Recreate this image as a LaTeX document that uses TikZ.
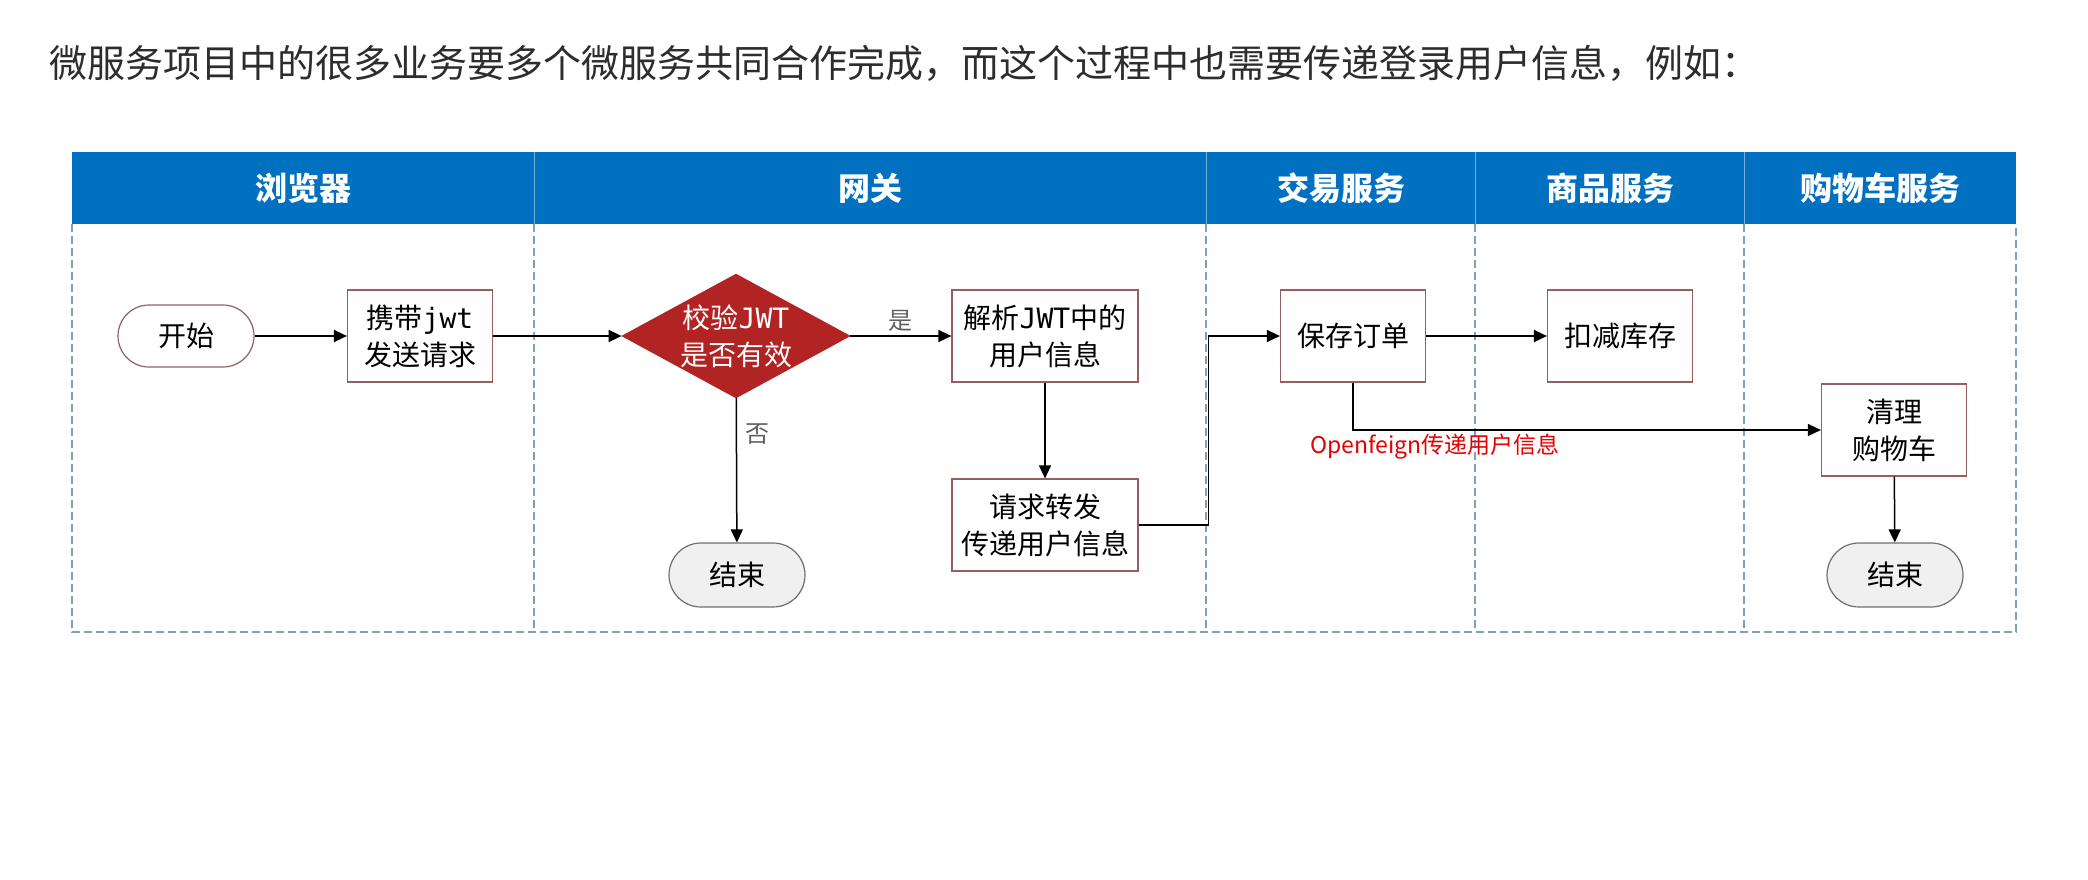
\documentclass[tikz,border=0pt]{standalone}
\usepackage{fontspec}
\setmainfont{Noto Sans CJK SC}
\newfontfamily\monof{DejaVu Sans Mono}
\usetikzlibrary{shapes.geometric,arrows.meta}
\definecolor{hdrblue}{RGB}{0,112,192}
\definecolor{hdrline}{RGB}{120,175,225}
\definecolor{lanegray}{RGB}{125,160,190}
\definecolor{boxedge}{RGB}{150,95,95}
\definecolor{diared}{RGB}{178,36,36}
\definecolor{endfill}{RGB}{240,240,240}
\definecolor{endedge}{RGB}{110,110,110}
\definecolor{titlegray}{RGB}{45,45,45}
\definecolor{labgray}{RGB}{95,95,95}
\definecolor{notered}{RGB}{230,0,0}
\begin{document}
\begin{tikzpicture}[x=0.5pt,y=-0.5pt,
  boxfont/.style={font=\fontsize{14}{18.5}\selectfont},
  proc/.style={draw=boxedge,line width=0.6pt,fill=white,minimum width=72.5pt,minimum height=46pt,inner sep=2pt,align=center,boxfont},
  wideproc/.style={proc,minimum width=93pt},
  startnode/.style={draw=boxedge,line width=0.6pt,fill=white,rounded corners=15.5pt,minimum width=68pt,minimum height=31pt,boxfont},
  endnode/.style={draw=endedge,line width=0.6pt,fill=endfill,rounded corners=16pt,minimum width=68pt,minimum height=32pt,boxfont},
  decision/.style={diamond,fill=diared,draw=diared,text=white,minimum width=110.5pt,minimum height=60pt,inner sep=0pt,shape aspect=1.84,align=center,boxfont},
  flow/.style={-{Triangle[length=6.5pt,width=6pt]},line width=0.75pt,black},
  lane/.style={draw=lanegray,dash pattern=on 4pt off 2pt,line width=0.6pt},
  hdr/.style={text=white,font=\fontsize{16}{20}\selectfont\bfseries},
  yesno/.style={text=labgray,font=\fontsize{12}{14}\selectfont}
]
\useasboundingbox (0,0) rectangle (2088,879);
\node[anchor=west,text=titlegray,font=\fontsize{19}{22}\selectfont,inner sep=0pt] (title) at (49,63) {微服务项目中的很多业务要多个微服务共同合作完成，而这个过程中也需要传递登录用户信息，例如：};

% swimlanes
\fill[hdrblue] (72,152) rectangle (2016,224);
\draw[lane] (72,224) -- (72,632) -- (2016,632) -- (2016,224);
\foreach \xx in {534,1206,1475,1744}{
  \draw[lane] (\xx,224) -- (\xx,632);
  \draw[hdrline,line width=0.5pt] (\xx,152) -- (\xx,224);
}
\node[hdr] (h1) at (303,188) {浏览器};
\node[hdr] (h2) at (870,188) {网关};
\node[hdr] (h3) at (1341,188) {交易服务};
\node[hdr] (h4) at (1610,188) {商品服务};
\node[hdr] (h5) at (1880,188) {购物车服务};

% nodes
\node[startnode] (start) at (186,336) {开始};
\node[proc] (carry) at (420,336) {携带{\monof jwt}\\发送请求};
\node[decision] (check) at (736,336) {校验{\monof JWT}\\是否有效};
\node[wideproc] (parse) at (1045,336) {解析{\monof JWT}中的\\用户信息};
\node[wideproc] (fwd) at (1045,525) {请求转发\\传递用户信息};
\node[endnode] (end1) at (737,575) {结束};
\node[proc] (order) at (1353,336) {保存订单};
\node[proc] (stock) at (1620,336) {扣减库存};
\node[proc] (cart) at (1894,430) {清理\\购物车};
\node[endnode] (end2) at (1895,575) {结束};
\node[anchor=west,text=notered,font=\fontsize{11.5}{14}\selectfont,inner sep=0pt] (feign) at (1310,447) {Openfeign传递用户信息};

% connectors
\draw[flow] (start) -- (carry);
\draw[flow] (carry) -- (check);
\draw[flow] (check) -- node[yesno,above,inner sep=2pt] (yes) {是} (parse);
\draw[flow] (check) -- node[yesno,right,pos=0.25,inner sep=4pt] (no) {否} (end1);
\draw[flow] (parse) -- (fwd);
\draw[flow] (fwd.east) -- ++(70,0) |- (order.west);
\draw[flow] (order) -- (stock);
\draw[flow] (order.south) |- (cart.west);
\draw[flow] (cart) -- (end2);
\end{tikzpicture}
\end{document}
